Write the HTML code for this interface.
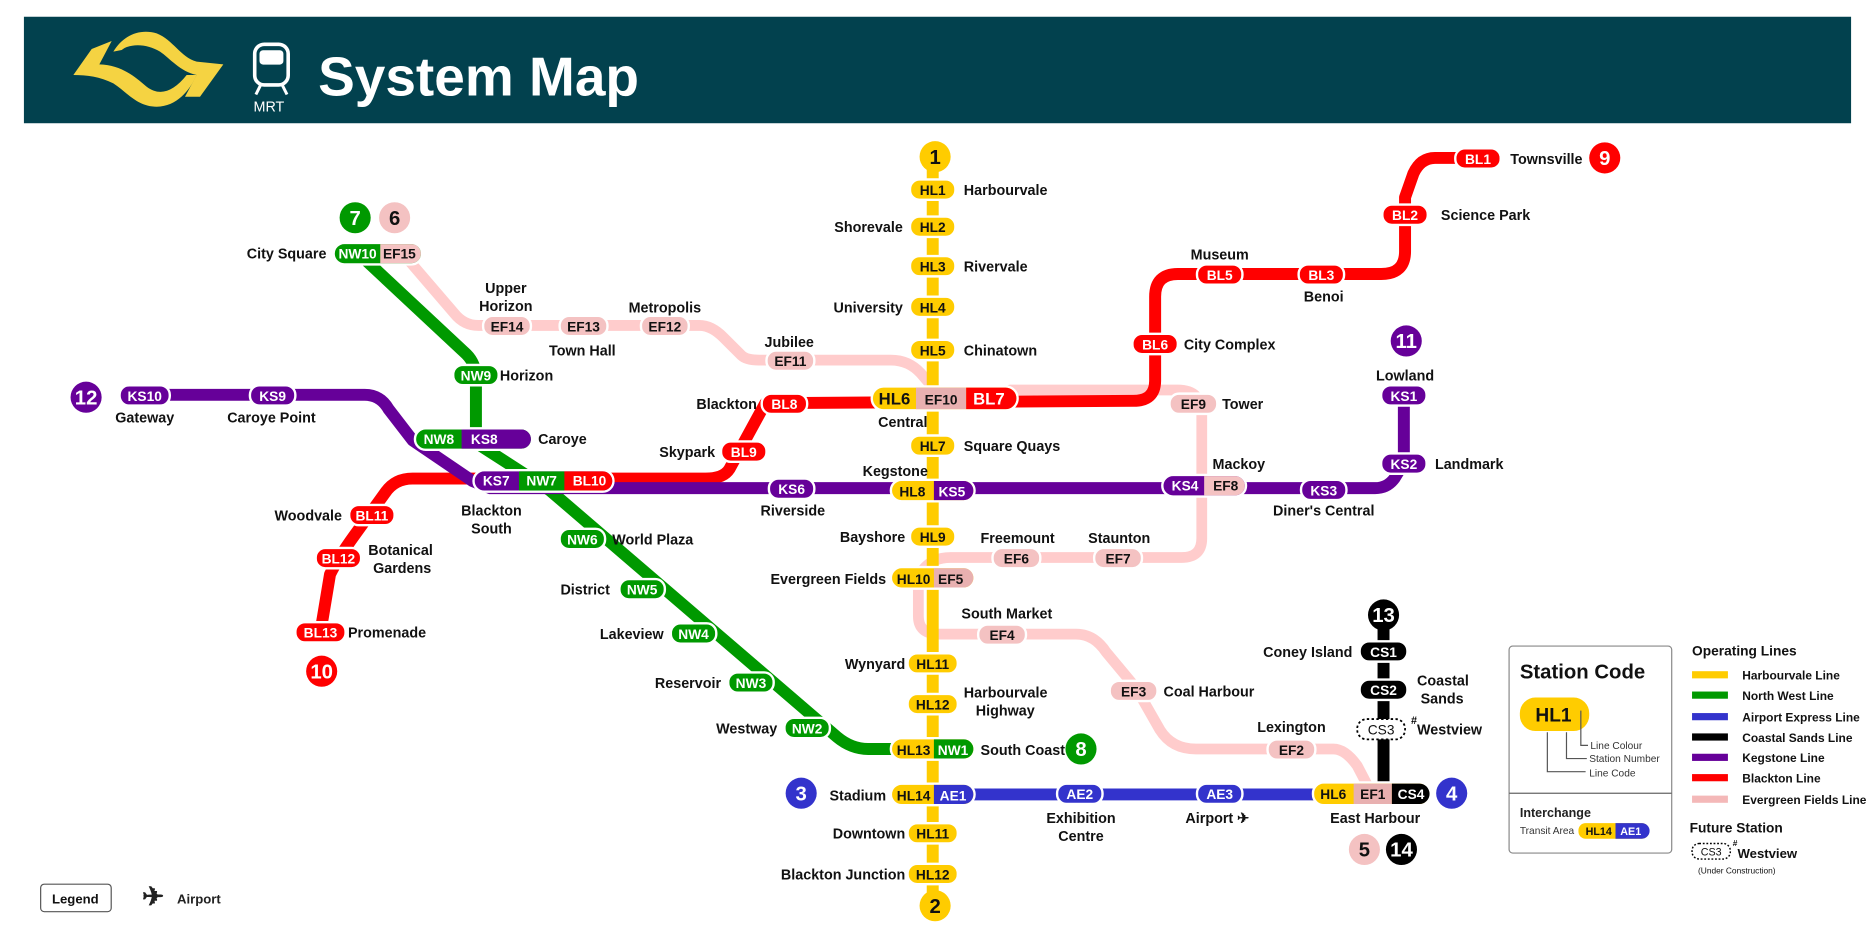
<!DOCTYPE html>
<html><head><meta charset="utf-8"><style>
html,body{margin:0;padding:0;background:#fff;}
svg{display:block;}
text{font-family:"Liberation Sans",Arial,sans-serif;font-weight:bold;}
.l{font-size:12px;fill:#111;}
.c{font-size:11.5px;text-anchor:middle;}
.w{fill:#fff;}
.k{fill:#111;}
</style></head><body>
<svg width="1875" height="938" viewBox="0 0 1568 784" preserveAspectRatio="none" xmlns="http://www.w3.org/2000/svg">
<!-- header -->
<rect x="20" y="14" width="1528" height="89" fill="#02414e"/>
<g transform="translate(50.2,20.9) scale(0.2787)" fill="#f5d342">
<path d="M160,80 C190,30 240,10 290,25 C340,45 360,95 410,110 L490,118 L420,215 L375,215 L410,150 C360,140 330,100 300,80 C260,55 210,55 185,75 Z"/>
<path d="M40,150 L95,72 L155,48 L118,118 C180,120 220,150 260,185 C300,215 340,200 380,150 L410,150 C390,195 350,245 290,245 C230,245 200,200 160,175 C120,155 80,150 40,150 Z"/>
</g>
<rect x="213" y="37" width="28" height="34" rx="8" fill="none" stroke="#fff" stroke-width="3"/>
<rect x="217" y="42" width="20" height="12" rx="3" fill="#fff"/>
<line x1="218" y1="71" x2="214" y2="79" stroke="#fff" stroke-width="2.5"/>
<line x1="236" y1="71" x2="240" y2="79" stroke="#fff" stroke-width="2.5"/>
<text x="212" y="93" fill="#fff" style="font-size:12px;font-weight:normal">MRT</text>
<text x="266" y="80" fill="#fff" style="font-size:46px">System Map</text>

<!-- lines -->
<g fill="none" stroke-linecap="round" stroke-linejoin="round">
<path d="M337,212 L380,262 Q388,272 400,272 L585,272 Q595,272 605,282 L620,297 Q624,301 635,301 L745,301 Q760,301 770,312 L788,333" stroke="#ffcccc" stroke-width="9"/>
<path d="M845,326 L985,326 Q1005,326 1005,346 L1005,450 Q1005,466 988,466 L795,466 Q780,466 772,476 L768,486 L768,515 Q768,530 785,530 L900,530 Q915,530 925,545 L950,575 L970,610 Q980,626 1000,626 L1115,626 Q1125,626 1135,640 L1147,663" stroke="#ffcccc" stroke-width="9"/>
<path d="M780,131 L780,757" stroke="#ffcc00" stroke-width="10"/>
<path d="M1110,664 L1098,664" stroke="#ffcc00" stroke-width="10"/>
<path d="M1236,132 L1200,132 Q1188,132 1182,145 L1175,165 L1175,210 Q1175,229 1155,229 L985,229 Q966,229 966,248 L966,318 Q966,335 948,335 L640,337 L610,392 Q605,400 590,400 L345,400 Q330,400 322,412 L296,448 Q283,466 276,480 L268,528" stroke="#ff0000" stroke-width="10"/>
<path d="M300,212 L390,296 Q398,304 398,316 L398,370 L460,410 L700,616 Q712,626 726,626 L790,626" stroke="#009900" stroke-width="10"/>
<path d="M120,330 L305,330 Q318,330 325,342 L345,368 L395,402 L410,408 L1150,408 Q1160,408 1166,400 L1174,387 L1174,330" stroke="#660099" stroke-width="10"/>
<path d="M800,664 L1098,664" stroke="#3333cc" stroke-width="10"/>
<path d="M1157,514 L1157,663 L1180,663" stroke="#000" stroke-width="10"/>
</g>

<!-- circles -->
<g class="c" style="font-size:17px">
<circle cx="782" cy="131" r="13" fill="#ffcc00"/><text x="782" y="137" class="k">1</text>
<circle cx="782" cy="757" r="13" fill="#ffcc00"/><text x="782" y="763" class="k">2</text>
<circle cx="670" cy="663" r="13" fill="#3333cc"/><text x="670" y="669" class="w">3</text>
<circle cx="1214" cy="663" r="13" fill="#3333cc"/><text x="1214" y="669" class="w">4</text>
<circle cx="1141" cy="710" r="13" fill="#f4c2c2"/><text x="1141" y="716" class="k">5</text>
<circle cx="330" cy="182" r="13" fill="#f4c2c2"/><text x="330" y="188" class="k">6</text>
<circle cx="297" cy="182" r="13" fill="#009900"/><text x="297" y="188" class="w">7</text>
<circle cx="904" cy="626" r="13" fill="#009900"/><text x="904" y="632" class="w">8</text>
<circle cx="1342" cy="132" r="13" fill="#ff0000"/><text x="1342" y="138" class="w">9</text>
<circle cx="269" cy="561" r="13" fill="#ff0000"/><text x="269" y="567" class="w">10</text>
<circle cx="1176" cy="285" r="13" fill="#660099"/><text x="1176" y="291" class="w">11</text>
<circle cx="72" cy="332" r="13" fill="#660099"/><text x="72" y="338" class="w">12</text>
<circle cx="1157" cy="514" r="13" fill="#000"/><text x="1157" y="520" class="w">13</text>
<circle cx="1172" cy="710" r="13" fill="#000"/><text x="1172" y="716" class="w">14</text>
</g>

<!-- pills -->
<g stroke="#fff" stroke-width="2">
<rect x="761" y="150" width="38" height="17" rx="8" fill="#ffcc00"/>
<rect x="761" y="181" width="38" height="17" rx="8" fill="#ffcc00"/>
<rect x="761" y="214" width="38" height="17" rx="8" fill="#ffcc00"/>
<rect x="761" y="248" width="38" height="17" rx="8" fill="#ffcc00"/>
<rect x="761" y="284" width="38" height="17" rx="8" fill="#ffcc00"/>
<rect x="761" y="364" width="38" height="17" rx="8" fill="#ffcc00"/>
<rect x="761" y="440" width="38" height="17" rx="8" fill="#ffcc00"/>
<rect x="759" y="546" width="42" height="17" rx="8" fill="#ffcc00"/>
<rect x="759" y="580" width="42" height="17" rx="8" fill="#ffcc00"/>
<rect x="759" y="688" width="42" height="17" rx="8" fill="#ffcc00"/>
<rect x="759" y="722" width="42" height="17" rx="8" fill="#ffcc00"/>
<rect x="729" y="323" width="122" height="20" rx="10" fill="#ffcc00"/>
<rect x="766" y="324" width="42" height="18" fill="#e8b0b0" stroke="none"/>
<path d="M808,324 L841,324 A9,9 0 0 1 841,342 L808,342Z" fill="#ff0000" stroke="none"/>
<rect x="745" y="401" width="70" height="18" rx="9" fill="#ffcc00"/>
<path d="M781,402 L806,402 A8,8 0 0 1 806,418 L781,418Z" fill="#660099" stroke="none"/>
<rect x="745" y="474" width="70" height="18" rx="9" fill="#ffcc00"/>
<path d="M781,475 L806,475 A8,8 0 0 1 806,491 L781,491Z" fill="#e8b0b0" stroke="none"/>
<rect x="745" y="617" width="70" height="18" rx="9" fill="#ffcc00"/>
<path d="M781,618 L806,618 A8,8 0 0 1 806,634 L781,634Z" fill="#009900" stroke="none"/>
<rect x="745" y="655" width="70" height="18" rx="9" fill="#ffcc00"/>
<path d="M781,656 L806,656 A8,8 0 0 1 806,672 L781,672Z" fill="#3333cc" stroke="none"/>
<rect x="1098" y="654" width="98" height="19" rx="9" fill="#ffcc00"/>
<rect x="1132" y="655" width="32" height="17" fill="#e8b0b0" stroke="none"/>
<path d="M1164,655 L1187,655 A8,8 0 0 1 1187,672 L1164,672Z" fill="#000" stroke="none"/>
<rect x="279" y="203" width="74" height="18" rx="9" fill="#009900"/>
<path d="M318,204 L344,204 A8,8 0 0 1 344,220 L318,220Z" fill="#f4c2c2" stroke="none"/>
<rect x="347" y="358" width="98" height="18" rx="9" fill="#009900"/>
<path d="M386,359 L436,359 A8,8 0 0 1 436,375 L386,375Z" fill="#660099" stroke="none"/>
<rect x="396" y="393" width="117" height="18" rx="9" fill="#660099"/>
<rect x="434" y="394" width="38" height="16" fill="#009900" stroke="none"/>
<path d="M472,394 L504,394 A8,8 0 0 1 504,410 L472,410Z" fill="#ff0000" stroke="none"/>
<rect x="972" y="397" width="70" height="18" rx="9" fill="#660099"/>
<path d="M1007,398 L1033,398 A8,8 0 0 1 1033,414 L1007,414Z" fill="#f4c2c2" stroke="none"/>
<rect x="379" y="305" width="38" height="17" rx="8" fill="#009900"/>
<rect x="468" y="442" width="38" height="17" rx="8" fill="#009900"/>
<rect x="518" y="484" width="38" height="17" rx="8" fill="#009900"/>
<rect x="561" y="521" width="38" height="17" rx="8" fill="#009900"/>
<rect x="609" y="562" width="38" height="17" rx="8" fill="#009900"/>
<rect x="656" y="600" width="38" height="17" rx="8" fill="#009900"/>
<rect x="1217" y="124" width="38" height="17" rx="8" fill="#ff0000"/>
<rect x="1156" y="171" width="38" height="17" rx="8" fill="#ff0000"/>
<rect x="1086" y="221" width="38" height="17" rx="8" fill="#ff0000"/>
<rect x="1001" y="221" width="38" height="17" rx="8" fill="#ff0000"/>
<rect x="947" y="279" width="38" height="17" rx="8" fill="#ff0000"/>
<rect x="637" y="329" width="38" height="17" rx="8" fill="#ff0000"/>
<rect x="603" y="369" width="38" height="17" rx="8" fill="#ff0000"/>
<rect x="292" y="422" width="38" height="17" rx="8" fill="#ff0000"/>
<rect x="264" y="458" width="38" height="17" rx="8" fill="#ff0000"/>
<rect x="247" y="520" width="42" height="17" rx="8" fill="#ff0000"/>
<rect x="100" y="322" width="42" height="17" rx="8" fill="#660099"/>
<rect x="209" y="322" width="38" height="17" rx="8" fill="#660099"/>
<rect x="643" y="400" width="38" height="17" rx="8" fill="#660099"/>
<rect x="1088" y="401" width="38" height="17" rx="8" fill="#660099"/>
<rect x="1155" y="379" width="38" height="17" rx="8" fill="#660099"/>
<rect x="1155" y="322" width="38" height="17" rx="8" fill="#660099"/>
<rect x="404" y="264" width="40" height="17" rx="8" fill="#f4c2c2"/>
<rect x="468" y="264" width="40" height="17" rx="8" fill="#f4c2c2"/>
<rect x="536" y="264" width="40" height="17" rx="8" fill="#f4c2c2"/>
<rect x="641" y="293" width="40" height="17" rx="8" fill="#f4c2c2"/>
<rect x="978" y="329" width="40" height="17" rx="8" fill="#f4c2c2"/>
<rect x="915" y="458" width="40" height="17" rx="8" fill="#f4c2c2"/>
<rect x="830" y="458" width="40" height="17" rx="8" fill="#f4c2c2"/>
<rect x="818" y="522" width="40" height="17" rx="8" fill="#f4c2c2"/>
<rect x="928" y="569" width="40" height="17" rx="8" fill="#f4c2c2"/>
<rect x="1060" y="618" width="40" height="17" rx="8" fill="#f4c2c2"/>
<rect x="1137" y="536" width="40" height="17" rx="8" fill="#000"/>
<rect x="1137" y="568" width="40" height="17" rx="8" fill="#000"/>
<rect x="1135" y="601" width="40" height="17" rx="8" fill="#fff" stroke="#000" stroke-dasharray="2,2" stroke-width="1.5"/>
<rect x="884" y="655" width="38" height="17" rx="8" fill="#3333cc"/>
<rect x="1001" y="655" width="38" height="17" rx="8" fill="#3333cc"/>
</g>

<!-- pill codes -->
<g class="c">
<text x="780" y="163" class="k">HL1</text>
<text x="780" y="194" class="k">HL2</text>
<text x="780" y="227" class="k">HL3</text>
<text x="780" y="261" class="k">HL4</text>
<text x="780" y="297" class="k">HL5</text>
<text x="780" y="377" class="k">HL7</text>
<text x="780" y="453" class="k">HL9</text>
<text x="780" y="559" class="k">HL11</text>
<text x="780" y="593" class="k">HL12</text>
<text x="780" y="701" class="k">HL11</text>
<text x="780" y="735" class="k">HL12</text>
<text x="748" y="338" class="k" style="font-size:14px">HL6</text>
<text x="787" y="338" class="k">EF10</text>
<text x="827" y="338" class="w" style="font-size:14px">BL7</text>
<text x="763" y="415" class="k">HL8</text>
<text x="796" y="415" class="w">KS5</text>
<text x="764" y="488" class="k">HL10</text>
<text x="795" y="488" class="k">EF5</text>
<text x="764" y="631" class="k">HL13</text>
<text x="797" y="631" class="w">NW1</text>
<text x="764" y="669" class="k">HL14</text>
<text x="797" y="669" class="w">AE1</text>
<text x="1115" y="668" class="k">HL6</text>
<text x="1148" y="668" class="k">EF1</text>
<text x="1180" y="668" class="w">CS4</text>
<text x="299" y="216" class="w">NW10</text>
<text x="334" y="216" class="k">EF15</text>
<text x="367" y="371" class="w">NW8</text>
<text x="405" y="371" class="w">KS8</text>
<text x="415" y="406" class="w">KS7</text>
<text x="453" y="406" class="w">NW7</text>
<text x="493" y="406" class="w">BL10</text>
<text x="991" y="410" class="w">KS4</text>
<text x="1025" y="410" class="k">EF8</text>
<text x="398" y="318" class="w">NW9</text>
<text x="487" y="455" class="w">NW6</text>
<text x="537" y="497" class="w">NW5</text>
<text x="580" y="534" class="w">NW4</text>
<text x="628" y="575" class="w">NW3</text>
<text x="675" y="613" class="w">NW2</text>
<text x="1236" y="137" class="w">BL1</text>
<text x="1175" y="184" class="w">BL2</text>
<text x="1105" y="234" class="w">BL3</text>
<text x="1020" y="234" class="w">BL5</text>
<text x="966" y="292" class="w">BL6</text>
<text x="656" y="342" class="w">BL8</text>
<text x="622" y="382" class="w">BL9</text>
<text x="311" y="435" class="w">BL11</text>
<text x="283" y="471" class="w">BL12</text>
<text x="268" y="533" class="w">BL13</text>
<text x="121" y="335" class="w">KS10</text>
<text x="228" y="335" class="w">KS9</text>
<text x="662" y="413" class="w">KS6</text>
<text x="1107" y="414" class="w">KS3</text>
<text x="1174" y="392" class="w">KS2</text>
<text x="1174" y="335" class="w">KS1</text>
<text x="424" y="277" class="k">EF14</text>
<text x="488" y="277" class="k">EF13</text>
<text x="556" y="277" class="k">EF12</text>
<text x="661" y="306" class="k">EF11</text>
<text x="998" y="342" class="k">EF9</text>
<text x="935" y="471" class="k">EF7</text>
<text x="850" y="471" class="k">EF6</text>
<text x="838" y="535" class="k">EF4</text>
<text x="948" y="582" class="k">EF3</text>
<text x="1080" y="631" class="k">EF2</text>
<text x="1157" y="549" class="w">CS1</text>
<text x="1157" y="581" class="w">CS2</text>
<text x="1155" y="614" class="k" style="font-weight:normal">CS3</text>
<text x="903" y="668" class="w">AE2</text>
<text x="1020" y="668" class="w">AE3</text>
</g>

<!-- labels -->
<g class="l">
<text x="806" y="163">Harbourvale</text>
<text x="755" y="194" text-anchor="end">Shorevale</text>
<text x="806" y="227">Rivervale</text>
<text x="755" y="261" text-anchor="end">University</text>
<text x="806" y="297">Chinatown</text>
<text x="755" y="357" text-anchor="middle">Central</text>
<text x="806" y="377">Square Quays</text>
<text x="776" y="398" text-anchor="end">Kegstone</text>
<text x="757" y="453" text-anchor="end">Bayshore</text>
<text x="741" y="488" text-anchor="end">Evergreen Fields</text>
<text x="757" y="559" text-anchor="end">Wynyard</text>
<text x="806" y="583">Harbourvale</text>
<text x="816" y="598">Highway</text>
<text x="820" y="631">South Coast</text>
<text x="741" y="669" text-anchor="end">Stadium</text>
<text x="757" y="701" text-anchor="end">Downtown</text>
<text x="757" y="735" text-anchor="end">Blackton Junction</text>
<text x="1263" y="137">Townsville</text>
<text x="1205" y="184">Science Park</text>
<text x="1107" y="252" text-anchor="middle">Benoi</text>
<text x="1020" y="217" text-anchor="middle">Museum</text>
<text x="990" y="292">City Complex</text>
<text x="633" y="342" text-anchor="end">Blackton</text>
<text x="598" y="382" text-anchor="end">Skypark</text>
<text x="286" y="435" text-anchor="end">Woodvale</text>
<text x="308" y="464">Botanical</text>
<text x="312" y="479">Gardens</text>
<text x="291" y="533">Promenade</text>
<text x="273" y="216" text-anchor="end">City Square</text>
<text x="418" y="318">Horizon</text>
<text x="450" y="371">Caroye</text>
<text x="411" y="431" text-anchor="middle">Blackton</text>
<text x="411" y="446" text-anchor="middle">South</text>
<text x="512" y="455">World Plaza</text>
<text x="510" y="497" text-anchor="end">District</text>
<text x="555" y="534" text-anchor="end">Lakeview</text>
<text x="603" y="575" text-anchor="end">Reservoir</text>
<text x="650" y="613" text-anchor="end">Westway</text>
<text x="121" y="353" text-anchor="middle">Gateway</text>
<text x="227" y="353" text-anchor="middle">Caroye Point</text>
<text x="663" y="431" text-anchor="middle">Riverside</text>
<text x="1107" y="431" text-anchor="middle">Diner's Central</text>
<text x="1200" y="392">Landmark</text>
<text x="1175" y="318" text-anchor="middle">Lowland</text>
<text x="423" y="245" text-anchor="middle">Upper</text>
<text x="423" y="260" text-anchor="middle">Horizon</text>
<text x="487" y="297" text-anchor="middle">Town Hall</text>
<text x="556" y="261" text-anchor="middle">Metropolis</text>
<text x="660" y="290" text-anchor="middle">Jubilee</text>
<text x="1022" y="342">Tower</text>
<text x="1036" y="392" text-anchor="middle">Mackoy</text>
<text x="936" y="454" text-anchor="middle">Staunton</text>
<text x="851" y="454" text-anchor="middle">Freemount</text>
<text x="842" y="517" text-anchor="middle">South Market</text>
<text x="973" y="582">Coal Harbour</text>
<text x="1080" y="612" text-anchor="middle">Lexington</text>
<text x="1131" y="549" text-anchor="end">Coney Island</text>
<text x="1185" y="573">Coastal</text>
<text x="1188" y="588">Sands</text>
<text x="1185" y="614">Westview</text>
<text x="1150" y="688" text-anchor="middle">East Harbour</text>
<text x="904" y="688" text-anchor="middle">Exhibition</text>
<text x="904" y="703" text-anchor="middle">Centre</text>
<text x="1018" y="688" text-anchor="middle">Airport ✈</text>
</g>
<text x="1180" y="605" style="font-size:9px">#</text>

<!-- legend -->
<rect x="1262" y="540" width="136" height="173" rx="3" fill="#fff" stroke="#888" stroke-width="1"/>
<line x1="1262" y1="663" x2="1398" y2="663" stroke="#666" stroke-width="1"/>
<text x="1271" y="567" style="font-size:17px" fill="#111">Station Code</text>
<rect x="1271" y="583" width="58" height="28" rx="13" fill="#ffcc00"/>
<text x="1284" y="603" style="font-size:16px" fill="#111">HL1</text>
<g stroke="#555" stroke-width="1" fill="none">
<path d="M1322,594 L1322,623 L1328,623"/><path d="M1310,612 L1310,634 L1327,634"/><path d="M1294,612 L1294,645 L1326,645"/>
</g>
<g style="font-size:8.5px" fill="#333">
<text x="1330" y="626" style="font-weight:normal">Line Colour</text>
<text x="1329" y="637" style="font-weight:normal">Station Number</text>
<text x="1329" y="649" style="font-weight:normal">Line Code</text>
<text x="1271" y="697" style="font-weight:normal">Transit Area</text>
</g>
<text x="1271" y="683" style="font-size:10.5px" fill="#222">Interchange</text>
<rect x="1320" y="688" width="59" height="13" rx="6" fill="#ffcc00"/>
<path d="M1351,688 L1373,688 A6,6 0 0 1 1373,701 L1351,701Z" fill="#3333cc"/>
<text x="1326" y="698" style="font-size:9px" fill="#111">HL14</text>
<text x="1355" y="698" style="font-size:9px" fill="#fff">AE1</text>

<text x="1415" y="548" style="font-size:11.5px" fill="#111">Operating Lines</text>
<rect x="1415" y="561" width="30" height="6" fill="#ffcc00"/>
<rect x="1415" y="578" width="30" height="6" fill="#009900"/>
<rect x="1415" y="596" width="30" height="6" fill="#3333cc"/>
<rect x="1415" y="613" width="30" height="6" fill="#000"/>
<rect x="1415" y="630" width="30" height="6" fill="#660099"/>
<rect x="1415" y="647" width="30" height="6" fill="#ff0000"/>
<rect x="1415" y="665" width="30" height="6" fill="#f4b8b8"/>
<g style="font-size:10px" fill="#111">
<text x="1457" y="568">Harbourvale Line</text>
<text x="1457" y="585">North West Line</text>
<text x="1457" y="603">Airport Express Line</text>
<text x="1457" y="620">Coastal Sands Line</text>
<text x="1457" y="637">Kegstone Line</text>
<text x="1457" y="654">Blackton Line</text>
<text x="1457" y="672">Evergreen Fields Line</text>
</g>
<text x="1413" y="696" style="font-size:11.5px" fill="#111">Future Station</text>
<rect x="1415" y="705" width="32" height="13" rx="6" fill="#fff" stroke="#000" stroke-dasharray="1.5,1.5" stroke-width="1.2"/>
<text x="1431" y="715" text-anchor="middle" style="font-size:9px;font-weight:normal" fill="#111">CS3</text>
<text x="1449" y="707" style="font-size:7px" fill="#111">#</text>
<text x="1453" y="717" style="font-size:11px" fill="#111">Westview</text>
<text x="1420" y="730" style="font-size:7px;font-weight:normal" fill="#111">(Under  Construction)</text>

<rect x="34" y="739" width="59" height="23" rx="3" fill="#fff" stroke="#555" stroke-width="1"/>
<text x="63" y="755" text-anchor="middle" style="font-size:11px" fill="#111">Legend</text>
<text x="128" y="757" text-anchor="middle" style="font-size:22px" fill="#222">✈</text>
<text x="148" y="755" style="font-size:11px" fill="#222">Airport</text>
</svg>
</body></html>
